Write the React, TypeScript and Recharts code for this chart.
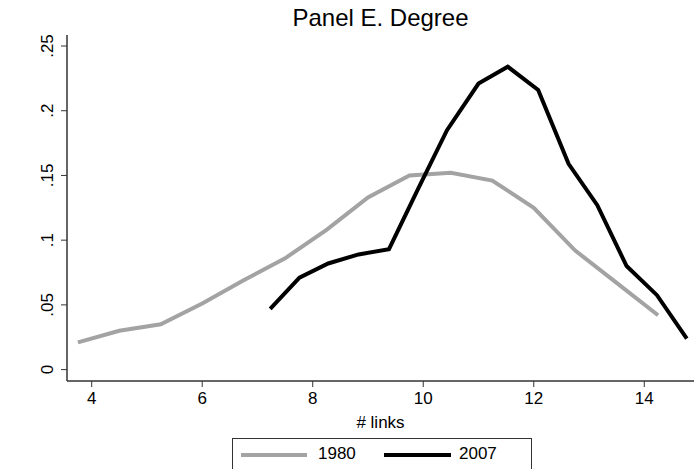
import React from 'react';
import { LineChart, Line, XAxis, YAxis } from 'recharts';

// # links (x) and share of firms (y)
const links1980 = [3.75, 4.5, 5.25, 6.0, 6.75, 7.5, 8.25, 9.0, 9.75, 10.5, 11.25, 12.0, 12.75, 13.5, 14.25];
const share1980 = [0.021, 0.030, 0.035, 0.051, 0.069, 0.086, 0.108, 0.133, 0.150, 0.152, 0.146, 0.125, 0.092, 0.067, 0.042];

const links2007 = [7.23, 7.76, 8.28, 8.83, 9.38, 9.9, 10.43, 11.0, 11.53, 12.08, 12.63, 13.15, 13.68, 14.23, 14.77];
const share2007 = [0.047, 0.071, 0.082, 0.089, 0.093, 0.139, 0.185, 0.221, 0.234, 0.216, 0.159, 0.127, 0.080, 0.0575, 0.024];

const xTicks = [4, 6, 8, 10, 12, 14];
const yTicks = [0, 0.05, 0.1, 0.15, 0.2, 0.25];
const seriesNames = ['1980', '2007'];

const data1980 = links1980.map((x, i) => ({ x, y: share1980[i] }));
const data2007 = links2007.map((x, i) => ({ x, y: share2007[i] }));

const FONT = 'Liberation Sans, Arial, sans-serif';
const GRAY = '#a3a3a3';

const fmtY = (v: number) => (v === 0 ? '0' : String(v).replace(/^0/, ''));

const YTick = (props: any) => {
  const { y, payload } = props;
  const bx = 53;
  return (
    <text
      x={bx}
      y={y}
      transform={`rotate(-90 ${bx} ${y})`}
      textAnchor="middle"
      fontSize={17}
      fontFamily={FONT}
      fill="#000"
    >
      {fmtY(payload.value)}
    </text>
  );
};

export default function App() {
  return (
    <div style={{ position: 'absolute', left: 0, top: 0, width: 694, height: 469, background: '#fff', fontFamily: FONT, overflow: 'hidden' }}>
      <div style={{ position: 'absolute', left: 67, width: 627, top: 4, textAlign: 'center', fontSize: 24, color: '#000' }}>
        Panel E. Degree
      </div>
      <LineChart width={694} height={469} margin={{ top: 35, right: 0, bottom: 41, left: 0 }}>
        <XAxis
          xAxisId="top"
          orientation="top"
          type="number"
          domain={[3.553, 14.9]}
          height={0}
          tick={false}
          tickLine={false}
          axisLine={{ stroke: '#555', strokeWidth: 1.5 }}
        />
        <XAxis
          dataKey="x"
          type="number"
          domain={[3.553, 14.9]}
          ticks={xTicks}
          allowDataOverflow
          height={47}
          tickSize={6}
          tickMargin={5}
          tick={{ fontSize: 17, fill: '#000', fontFamily: FONT }}
          tickLine={{ stroke: '#333' }}
          axisLine={{ stroke: '#333', strokeWidth: 1.5 }}
          label={{ value: '# links', position: 'insideBottom', offset: 0, fontSize: 17, fill: '#000', fontFamily: FONT }}
        />
        <YAxis
          type="number"
          domain={[-0.0088, 0.2585]}
          ticks={yTicks}
          allowDataOverflow
          width={67}
          tickSize={6}
          tick={<YTick />}
          tickLine={{ stroke: '#333' }}
          axisLine={{ stroke: '#333', strokeWidth: 1.5 }}
        />
        <Line data={data1980} dataKey="y" name={seriesNames[0]} stroke={GRAY} strokeWidth={4} dot={false} isAnimationActive={false} />
        <Line data={data2007} dataKey="y" name={seriesNames[1]} stroke="#000" strokeWidth={4} dot={false} isAnimationActive={false} />
      </LineChart>
      <div style={{ position: 'absolute', left: 232, top: 438, width: 300, height: 50, border: '1px solid #333', boxSizing: 'border-box' }}>
        <div style={{ position: 'absolute', left: 8, top: 14, width: 66, height: 4, background: GRAY }} />
        <div style={{ position: 'absolute', left: 85, top: 5, fontSize: 17, lineHeight: '20px' }}>{seriesNames[0]}</div>
        <div style={{ position: 'absolute', left: 151, top: 14, width: 67, height: 4, background: '#000' }} />
        <div style={{ position: 'absolute', left: 226, top: 5, fontSize: 17, lineHeight: '20px' }}>{seriesNames[1]}</div>
      </div>
    </div>
  );
}
